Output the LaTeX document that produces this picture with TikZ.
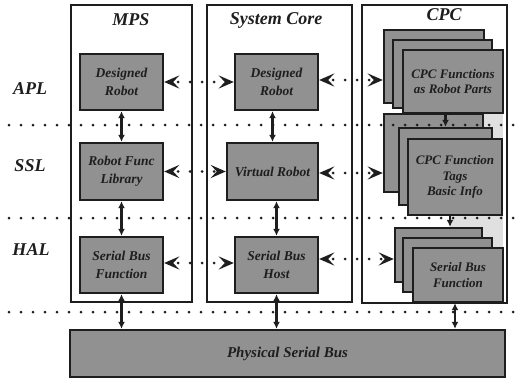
\documentclass[tikz,border=0pt]{standalone}
\usepackage{fontspec}
\setmainfont{Liberation Serif}
\usetikzlibrary{arrows.meta}
\definecolor{boxgray}{RGB}{145,145,145}
\definecolor{inkdark}{RGB}{30,30,30}
\definecolor{haze}{RGB}{224,224,224}
\tikzset{
  column/.style={draw=inkdark, line width=2pt, fill=white},
  unit/.style={draw=inkdark, line width=2.4pt, fill=boxgray, inner sep=0pt,
    align=center, text=inkdark,
    font=\bfseries\itshape\fontsize{13.5}{18}\selectfont},
  cpcunit/.style={unit, font=\bfseries\itshape\fontsize{13}{15.5}\selectfont},
  busunit/.style={unit, font=\bfseries\itshape\fontsize{15}{18}\selectfont},
  layerlbl/.style={font=\bfseries\itshape\fontsize{18}{20}\selectfont, text=inkdark},
  coltitle/.style={font=\bfseries\itshape\fontsize{18}{20}\selectfont, text=inkdark},
  layerline/.style={line width=3pt, line cap=round, dash pattern=on 0pt off 12pt, draw=inkdark},
  link/.style={line width=2.4pt, draw=inkdark,
    {Latex[length=7pt,width=7pt]}-{Latex[length=7pt,width=7pt]}},
  downlink/.style={line width=2.4pt, draw=inkdark, -{Latex[length=7pt,width=7pt]}},
  peer/.style={line width=3pt, draw=inkdark, line cap=round,
    dash pattern=on 0pt off 12pt, dash phase=6pt,
    {Stealth[length=15pt,width=13pt,inset=6pt]}-{Stealth[length=15pt,width=13pt,inset=6pt]}},
}
\begin{document}
\begin{tikzpicture}[x=1pt,y=-1pt]
\useasboundingbox[fill=white] (0,0) rectangle (522,380);

% column frames
\draw[column] (71,5) rectangle (192,302);
\draw[column] (207,5) rectangle (352,302);
\draw[column] (362,5) rectangle (507,303);
\fill[haze] (450,113) rectangle (503,300);

% column titles
\node[coltitle] (tmps) at (131,20) {MPS};
\node[coltitle] (tcore) at (276,20) {System Core};
\node[coltitle] (tcpc) at (444,15) {CPC};

% layer labels
\node[layerlbl] (lapl) at (30,89) {APL};
\node[layerlbl] (lssl) at (30,166) {SSL};
\node[layerlbl] (lhal) at (31,250) {HAL};

% MPS units
\node[unit, minimum width=83pt, minimum height=56pt] (mpsdr) at (121.5,82) {Designed\\Robot};
\node[unit, minimum width=83pt, minimum height=57pt] (mpsrf) at (121.5,171.5) {Robot Func\\Library};
\node[unit, minimum width=83pt, minimum height=56pt] (mpssb) at (121.5,265) {Serial Bus\\Function};

% System Core units
\node[unit, minimum width=83pt, minimum height=56pt] (coredr) at (276.5,82) {Designed\\Robot};
\node[unit, minimum width=91pt, minimum height=57pt] (corevr) at (272.5,171.5) {Virtual Robot};
\node[unit, minimum width=83pt, minimum height=56pt] (coresb) at (276.5,265) {Serial Bus\\Host};

% CPC stacks: application layer
\node[cpcunit, minimum width=100pt, minimum height=73pt] (cpcA1) at (434,66.5) {};
\node[cpcunit, minimum width=99pt, minimum height=68pt] (cpcA2) at (442.5,74) {};
\node[cpcunit, minimum width=100pt, minimum height=63pt] (cpcA3) at (453,81.5) {CPC Functions\\as Robot Parts};

% CPC stacks: system services layer
\node[cpcunit, minimum width=99pt, minimum height=78pt] (cpcS1) at (433.5,153) {};
\node[cpcunit, minimum width=93pt, minimum height=77pt] (cpcS2) at (445.5,166.5) {};
\node[cpcunit, minimum width=94pt, minimum height=76pt] (cpcS3) at (455,177) {CPC Function\\Tags\\Basic Info};

% CPC stacks: hardware layer
\node[cpcunit, minimum width=87pt, minimum height=54pt] (cpcH1) at (438.5,255) {};
\node[cpcunit, minimum width=89pt, minimum height=54pt] (cpcH2) at (447.5,265) {};
\node[cpcunit, minimum width=90pt, minimum height=54pt] (cpcH3) at (458,275) {Serial Bus\\Function};

% bus
\node[busunit, minimum width=435pt, minimum height=47pt] (bus) at (287.5,353.5) {Physical Serial Bus};

% layer separators
\draw[layerline] (9,125) -- (515,125);
\draw[layerline] (9,218) -- (515,218);
\draw[layerline] (9,312) -- (515,312);

% vertical links
\draw[link] (mpsdr) -- (mpsrf);
\draw[link] (mpsrf) -- (mpssb);
\draw[link] (mpssb.south) -- (mpssb.south |- bus.north);
\draw[link] (corevr.north |- coredr.south) -- (corevr.north);
\draw[link] (corevr.south -| coresb.south) -- (coresb.north);
\draw[link] (coresb.south) -- (coresb.south |- bus.north);
\draw[downlink] (cpcS2.north |- cpcA3.south) -- (cpcS2.north);
\draw[downlink] ([xshift=-5pt]cpcS3.south) -- ([xshift=-5pt]cpcS3.south |- cpcH1.north);
\draw[link] ([xshift=-3pt]cpcH3.south) -- ([xshift=-3pt]cpcH3.south |- bus.north);

% peer links
\draw[peer] (mpsdr.east) -- (coredr.west);
\draw[peer] ([yshift=2pt]coredr.east) -- ([yshift=2pt]coredr.east -| cpcA1.west);
\draw[peer] (mpsrf.east) -- (mpsrf.east -| corevr.west);
\draw[peer] ([yshift=-1.5pt]corevr.east) -- ([yshift=-1.5pt]corevr.east -| cpcS1.west);
\draw[peer] ([yshift=2pt]mpssb.east) -- ([yshift=2pt]coresb.west);
\draw[peer] ([yshift=6pt]coresb.east) -- ([yshift=6pt]coresb.east -| cpcH1.west);
\end{tikzpicture}
\end{document}
